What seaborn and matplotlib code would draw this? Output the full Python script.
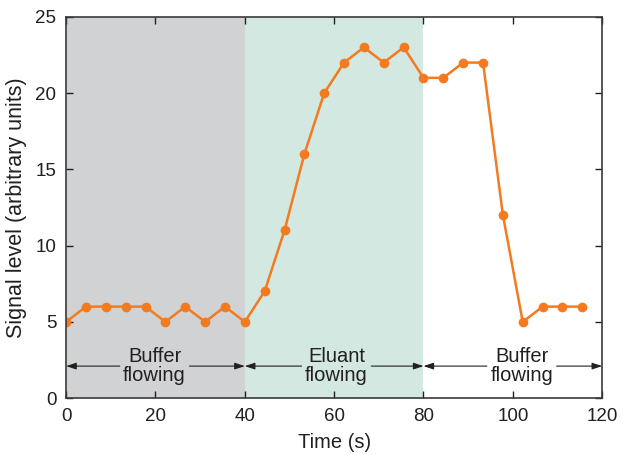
import matplotlib
matplotlib.use("Agg")
import matplotlib.pyplot as plt
import numpy as np
import pandas as pd
import seaborn as sns

# Signal readings taken every 40/9 s
time_s = [0.0, 4.44, 8.89, 13.33, 17.78, 22.22, 26.67, 31.11, 35.56, 40.0,
          44.44, 48.89, 53.33, 57.78, 62.22, 66.67, 71.11, 75.56, 80.0,
          84.44, 88.89, 93.33, 97.78, 102.22, 106.67, 111.11, 115.56]
signal = [5, 6, 6, 6, 6, 5, 6, 5, 6, 5,
          7, 11, 16, 20, 22, 23, 22, 23, 21,
          21, 22, 22, 12, 5, 6, 6, 6]

# Phases: (start, end, label, text x)
phases = [(0, 40, "Buffer\nflowing", 19.8),
          (40, 80, "Eluant\nflowing", 60.5),
          (80, 120, "Buffer\nflowing", 102)]
phase_colors = ["#d1d2d4", "#d3e8e1", "#ffffff"]

df = pd.DataFrame({"Time (s)": time_s, "signal": signal})

sns.set_style("ticks")
plt.rcParams["font.family"] = ["Liberation Sans", "DejaVu Sans"]

fig = plt.figure(figsize=(6.24, 4.55), dpi=100)
ax = fig.add_axes([0.106, 0.125, 0.859, 0.838])

for (x0, x1, _, _), c in zip(phases, phase_colors):
    ax.axvspan(x0, x1, color=c, lw=0, zorder=0)

sns.lineplot(data=df, x="Time (s)", y="signal", ax=ax, color="#f47a20",
             linewidth=1.8, marker="o", markersize=7, markeredgewidth=0,
             zorder=3)

arrow_y = 2.1
for x0, x1, label, tx in phases:
    ax.text(tx, arrow_y, label, ha="center", va="center", fontsize=14.5,
            color="#231f20", linespacing=0.95)
    half = 7.8
    for start, end in [(tx - half, x0), (tx + half, x1)]:
        ax.annotate("", xy=(end, arrow_y), xytext=(start, arrow_y),
                    arrowprops=dict(arrowstyle="-|>,head_length=0.6,head_width=0.2",
                                    color="#231f20", lw=0.8, shrinkA=0, shrinkB=0))

ax.set_xlim(0, 120)
ax.set_ylim(0, 25)
ax.set_xticks(np.arange(0, 121, 20))
ax.set_yticks(np.arange(0, 26, 5))
ax.set_xlabel("Time (s)", fontsize=14.5, color="#231f20", labelpad=6)
ax.set_ylabel("Signal level (arbitrary units)", fontsize=15.5, color="#231f20",
              labelpad=6)
ax.tick_params(direction="in", top=True, right=True, length=5, width=1,
               labelsize=13.5, colors="#231f20", pad=7)
for sp in ax.spines.values():
    sp.set_color("#3a3a3a")
    sp.set_linewidth(1.2)
    sp.set_visible(True)
    sp.set_zorder(5)

fig.savefig("out.png", dpi=100)
